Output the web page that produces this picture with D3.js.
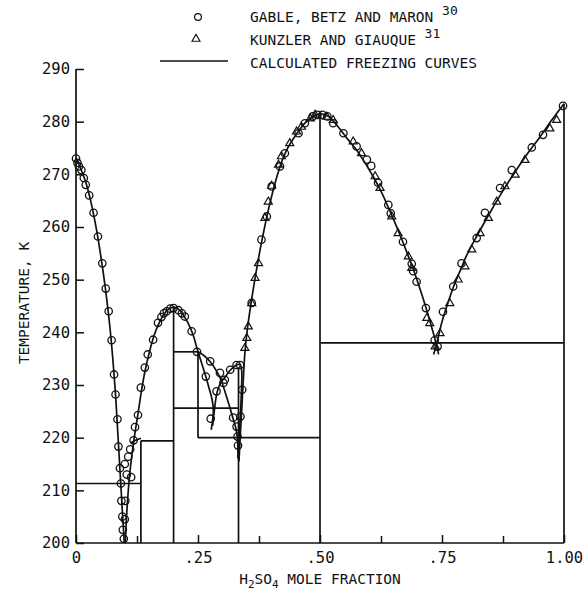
<!DOCTYPE html>
<html>
<head>
<meta charset="utf-8">
<script src="https://cdn.jsdelivr.net/npm/d3@7"></script>
<style>
  html, body { margin: 0; padding: 0; background: #fff; }
  svg text { font-family: "DejaVu Sans Mono", monospace; fill: #111; }
</style>
</head>
<body>
<svg id="chart" width="586" height="593"></svg>
<script>
// ---- axis ticks ----
const xMajorTicks = [0, 0.25, 0.5, 0.75, 1.0];
const xMajorLabels = ["0", ".25", ".50", ".75", "1.00"];
const xMinorTicks = [0.125, 0.375, 0.625, 0.875];
const yTicks = [200, 210, 220, 230, 240, 250, 260, 270, 280, 290];

// ---- calculated freezing curves [mole fraction, K] ----
const iceCurve = [[0,273.15],[0.01,271],[0.02,268.5],[0.03,265],[0.04,260.5],[0.05,255],
  [0.06,248.5],[0.07,240.5],[0.08,229.5],[0.085,222],[0.09,214],[0.095,206],[0.099,200]];
const hexaHalfCurve = [[0.112,219.0],[0.122,219.5],[0.133,219.9]];
const tetraCurve = [[0.101,200],[0.103,204],[0.106,208.5],[0.11,213],[0.115,217],[0.121,221],
  [0.127,224.5],[0.133,228.2],[0.14,232],[0.15,236.1],[0.16,239.4],[0.17,241.7],[0.18,243.4],
  [0.19,244.4],[0.2,244.8],[0.21,244.4],[0.22,243.3],[0.23,241.7],[0.24,239.5],[0.25,236.3],
  [0.258,234],[0.266,231.6],[0.273,229.3],[0.279,227.2],[0.2815,225],[0.277,221.5]];
const triCurve = [[0.25,236.3],[0.262,235.6],[0.275,234.4],[0.287,232.8],[0.297,231],
  [0.305,228.8],[0.314,226.1],[0.322,223.6],[0.328,221.6],[0.331,219.5],[0.332,216]];
const diCurve = [[0.28,222.3],[0.284,225.5],[0.289,228.6],[0.297,230.5],[0.305,231.4],
  [0.316,232.8],[0.329,233.8],[0.336,233.9],[0.3395,232.7],[0.339,229],[0.337,224.5],
  [0.3345,220.5],[0.333,216]];
const monoCurve = [[0.334,215.5],[0.337,221],[0.34,226],[0.3425,230.4],[0.346,236],[0.351,240.5],
  [0.357,244.5],[0.365,249.2],[0.372,253],[0.38,257],[0.39,261.5],[0.4,265.5],[0.41,269],
  [0.42,272],[0.43,274.3],[0.44,276],[0.45,277.4],[0.46,278.7],[0.47,279.8],[0.48,280.6],
  [0.49,281.2],[0.5,281.5],[0.51,281.3],[0.52,280.8],[0.53,279.8],[0.54,278.7],[0.55,277.5],
  [0.56,276.3],[0.575,274.6],[0.59,272.5],[0.6,271],[0.61,269.4],[0.62,267.7],[0.63,265.8],
  [0.64,263.7],[0.65,261.6],[0.66,259.4],[0.67,257.1],[0.68,254.7],[0.69,252.3],[0.7,249.6],
  [0.71,246.8],[0.72,243.8],[0.73,240.6],[0.74,237.2],[0.743,235.8]];
const acidCurve = [[0.733,235.8],[0.74,238.2],[0.75,242],[0.76,245],[0.775,249],[0.79,252.3],
  [0.8,254.5],[0.825,258.9],[0.85,263],[0.875,266.9],[0.9,270.5],[0.925,273.9],[0.95,277],
  [0.975,280.3],[1.0,283.4]];

// ---- phase boundaries ----
const horizontalLines = [[0,0.133,211.3],[0.133,0.2,219.4],[0.2,0.25,236.3],
  [0.2,0.333,225.6],[0.25,0.5,220],[0.5,1.0,238]];      // [x0, x1, T]
const verticalLines = [[0.133,200,219.4],[0.2,200,244.8],[0.25,220,236.3],
  [0.333,200,233.2],[0.5,200,281.5],[1.0,200,283.4]];   // [x, T0, T1]

// ---- measurements: Gable, Betz and Maron ----
const gableData = [[0,273],[0.003,272.2],[0.006,271.5],[0.011,270.8],[0.016,269.3],[0.02,268],
  [0.027,266],[0.036,262.7],[0.045,258.2],[0.054,253.1],[0.061,248.3],[0.067,244],[0.073,238.5],
  [0.078,232],[0.081,228.2],[0.085,223.5],[0.087,218.3],[0.09,214.2],[0.092,211.3],[0.093,208],
  [0.095,205],[0.096,202.5],[0.098,200.8],
  [0.1,215],[0.104,213],[0.107,216.4],[0.111,217.8],[0.113,212.5],[0.101,208],[0.1,204.5],
  [0.118,219.5],[0.121,222],[0.127,224.3],[0.133,229.5],[0.141,233.3],[0.147,235.8],
  [0.158,238.6],[0.168,241.8],[0.175,242.9],[0.18,243.6],[0.186,244],[0.193,244.5],[0.2,244.6],
  [0.21,244.2],[0.217,243.6],[0.223,243],[0.237,240.2],[0.248,236.3],
  [0.266,231.6],[0.275,234.5],[0.295,232.3],[0.302,230.4],[0.288,228.8],[0.305,231],
  [0.316,232.9],[0.329,233.8],[0.336,233.8],[0.276,223.6],[0.322,223.8],[0.329,222.1],
  [0.331,220.2],[0.332,218.5],[0.337,224],[0.3405,229.1],
  [0.36,245.6],[0.38,257.6],[0.391,262],[0.401,267.7],[0.418,271.5],[0.428,274],[0.456,277.8],
  [0.469,279.7],[0.485,281],[0.495,281.3],[0.505,281.3],[0.515,281],[0.527,279.7],
  [0.548,277.8],[0.575,275.3],[0.596,272.8],[0.605,271.6],[0.619,268.4],[0.64,264.2],
  [0.645,262.6],[0.67,257.2],[0.688,253],[0.691,251.6],[0.698,249.6],[0.717,244.6],
  [0.735,238.5],[0.741,237.3],
  [0.752,243.9],[0.773,248.7],[0.79,253.1],[0.821,257.9],[0.838,262.7],[0.869,267.4],
  [0.893,270.8],[0.934,275.1],[0.957,277.5],[0.998,283]];

// ---- measurements: Kunzler and Giauque ----
const kunzlerData = [[0.346,237],[0.35,238.9],[0.353,241.1],[0.36,245.5],[0.367,250.3],
  [0.374,253.1],[0.387,261.7],[0.394,264.8],[0.401,267.8],[0.415,271.8],[0.421,273.4],
  [0.438,275.9],[0.452,278.1],[0.462,279],[0.48,280.6],[0.49,281.3],[0.514,280.9],[0.527,280.3],
  [0.568,276.2],[0.585,274],[0.613,269.6],[0.623,267.4],[0.647,262],[0.66,258.8],[0.681,254.4],
  [0.688,252.2],[0.719,242.7],[0.725,241.7],[0.736,237.3],
  [0.746,239.8],[0.766,245.5],[0.783,250],[0.797,252.5],[0.811,255.7],[0.828,258.8],
  [0.845,261.7],[0.862,264.8],[0.879,267.7],[0.9,269.9],[0.92,272.7],[0.971,278.7],[0.985,280.3]];

// ---- layout ----
const svg = d3.select("#chart");
const x = d3.scaleLinear().domain([0, 1]).range([76, 564]);
const y = d3.scaleLinear().domain([200, 290]).range([543, 69]);
const ink = "#111";

// axes
const yAxis = d3.axisLeft(y).tickValues(yTicks).tickSize(-8).tickPadding(6).tickFormat(d3.format("d"));
const gy = svg.append("g").attr("transform", `translate(${x(0)},0)`).call(yAxis);
const xAxis = d3.axisBottom(x).tickValues(xMajorTicks).tickSize(-8).tickPadding(9)
  .tickFormat((d, i) => xMajorLabels[i]);
const gx = svg.append("g").attr("transform", `translate(0,${y(200)})`).call(xAxis);
svg.append("g").attr("transform", `translate(0,${y(200)})`)
  .call(d3.axisBottom(x).tickValues(xMinorTicks).tickSize(-7).tickFormat(""))
  .select(".domain").remove();
svg.selectAll(".domain").attr("stroke", ink).attr("stroke-width", 1.7);
gy.select(".domain").attr("d", `M0,${y(290)}V${y(200)}`);
gx.select(".domain").attr("d", `M${x(0)},0H${x(1)}`);
svg.selectAll(".tick line").attr("stroke", ink).attr("stroke-width", 1.5);
svg.selectAll(".tick text").style("font-size", "15.5px").attr("fill", ink);

// phase boundaries
const bounds = svg.append("g").attr("stroke", ink).attr("stroke-width", 1.7).attr("fill", "none");
bounds.selectAll("line.h").data(horizontalLines).join("line").attr("class", "h")
  .attr("x1", d => x(d[0])).attr("x2", d => x(d[1])).attr("y1", d => y(d[2])).attr("y2", d => y(d[2]));
bounds.selectAll("line.v").data(verticalLines).join("line").attr("class", "v")
  .attr("x1", d => x(d[0])).attr("x2", d => x(d[0])).attr("y1", d => y(d[1])).attr("y2", d => y(d[2]));

// freezing curves
const line = d3.line().x(d => x(d[0])).y(d => y(d[1])).curve(d3.curveCatmullRom.alpha(0.5));
const curves = [iceCurve, hexaHalfCurve, tetraCurve, triCurve, diCurve, monoCurve, acidCurve];
svg.append("g").selectAll("path").data(curves).join("path")
  .attr("d", line).attr("fill", "none").attr("stroke", ink).attr("stroke-width", 1.7);

// markers
const tri = d3.symbol().type(d3.symbolTriangle).size(28);
svg.append("g").selectAll("circle").data(gableData).join("circle")
  .attr("cx", d => x(d[0])).attr("cy", d => y(d[1])).attr("r", 3.7)
  .attr("fill", "none").attr("stroke", ink).attr("stroke-width", 1.3);
svg.append("g").selectAll("path").data(kunzlerData).join("path")
  .attr("transform", d => `translate(${x(d[0])},${y(d[1])})`).attr("d", tri)
  .attr("fill", "none").attr("stroke", ink).attr("stroke-width", 1.2);

// axis titles
svg.append("text").attr("transform", "translate(24,303) rotate(-90)")
  .attr("text-anchor", "middle").attr("dy", "0.35em").style("font-size", "14.5px").text("TEMPERATURE, K");
const xt = svg.append("text").attr("x", x(0.5)).attr("y", 584).attr("text-anchor", "middle")
  .style("font-size", "14.5px");
xt.append("tspan").text("H");
xt.append("tspan").attr("dy", 4).style("font-size", "11px").text("2");
xt.append("tspan").attr("dy", -4).text("SO");
xt.append("tspan").attr("dy", 4).style("font-size", "11px").text("4");
xt.append("tspan").attr("dy", -4).text(" MOLE FRACTION");

// legend
const legend = svg.append("g");
const rowsY = [20, 43, 66];
legend.append("circle").attr("cx", 198).attr("cy", rowsY[0] - 3).attr("r", 3.4)
  .attr("fill", "none").attr("stroke", ink).attr("stroke-width", 1.2);
legend.append("path").attr("transform", `translate(196,${rowsY[1] - 4})`).attr("d", tri)
  .attr("fill", "none").attr("stroke", ink).attr("stroke-width", 1.1);
legend.append("line").attr("x1", 160).attr("x2", 228).attr("y1", rowsY[2] - 5).attr("y2", rowsY[2] - 5)
  .attr("stroke", ink).attr("stroke-width", 1.6);
const t1 = legend.append("text").attr("x", 250).attr("y", rowsY[0] + 2).style("font-size", "14.5px");
t1.append("tspan").text("GABLE, BETZ AND MARON ");
t1.append("tspan").attr("dy", -7).style("font-size", "13px").text("30");
const t2 = legend.append("text").attr("x", 250).attr("y", rowsY[1] + 2).style("font-size", "14.5px");
t2.append("tspan").text("KUNZLER AND GIAUQUE ");
t2.append("tspan").attr("dy", -7).style("font-size", "13px").text("31");
legend.append("text").attr("x", 250).attr("y", rowsY[2] + 2).style("font-size", "14.5px")
  .text("CALCULATED FREEZING CURVES");
</script>
</body>
</html>
